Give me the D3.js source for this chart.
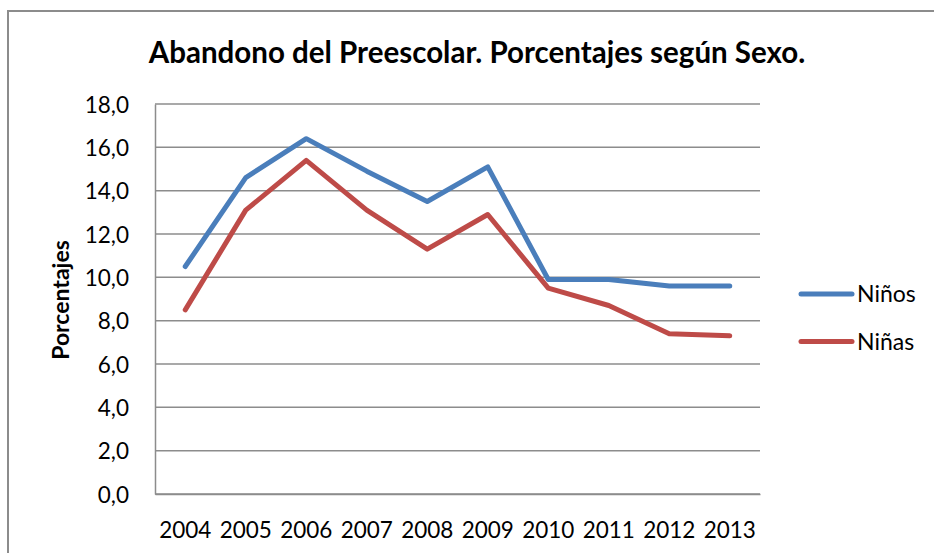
<!DOCTYPE html>
<html>
<head>
<meta charset="utf-8">
<script src="https://cdn.jsdelivr.net/npm/d3@7"></script>
<style>
  body { margin: 0; background: #fff; }
  text { font-family: Lato, "Open Sans", sans-serif; fill: #000; }
</style>
</head>
<body>
<svg width="934" height="553"></svg>
<script>
var years = ["2004", "2005", "2006", "2007", "2008", "2009", "2010", "2011", "2012", "2013"];
var ninos = [10.5, 14.6, 16.4, 14.9, 13.5, 15.1, 9.9, 9.9, 9.6, 9.6];
var ninas = [8.5, 13.1, 15.4, 13.1, 11.3, 12.9, 9.5, 8.7, 7.4, 7.3];
var yTicks = [0, 2, 4, 6, 8, 10, 12, 14, 16, 18];
var seriesNames = ["Niños", "Niñas"];
var seriesColors = ["#4A7EBB", "#BE4B48"];

var svg = d3.select("svg");

// chart frame (only top and left visible)
svg.append("rect")
    .attr("x", 8).attr("y", 11)
    .attr("width", 940).attr("height", 560)
    .attr("fill", "#fff")
    .attr("stroke", "#8c8c8c")
    .attr("stroke-width", 2);

var plot = { left: 155, right: 760, top: 104, bottom: 494 };

var x = d3.scaleBand()
    .domain(years)
    .range([plot.left, plot.right]);

var y = d3.scaleLinear()
    .domain([0, 18])
    .range([plot.bottom, plot.top]);

// gridlines
svg.append("g")
  .selectAll("line")
  .data(yTicks)
  .enter().append("line")
    .attr("x1", plot.left).attr("x2", plot.right)
    .attr("y1", d => y(d)).attr("y2", d => y(d))
    .attr("stroke", "#8c8c8c")
    .attr("stroke-width", 1.5);

// y axis
var yAxis = svg.append("g")
    .attr("transform", "translate(" + plot.left + ",0)")
    .call(d3.axisLeft(y).tickValues(yTicks).tickSize(0).tickPadding(26)
        .tickFormat(d => d3.format(".1f")(d).replace(".", ",")));
yAxis.select(".domain").attr("stroke", "#8c8c8c").attr("stroke-width", 1.5);
yAxis.selectAll("text").style("font-size", "22.5px").attr("dy", "0.36em");

// x axis
var xAxis = svg.append("g")
    .attr("transform", "translate(0," + plot.bottom + ")")
    .call(d3.axisBottom(x).tickSize(0).tickPadding(28));
xAxis.select(".domain").attr("stroke", "#8c8c8c").attr("stroke-width", 1.5);
xAxis.selectAll("text").style("font-size", "22.5px");

// lines
var line = d3.line()
    .x((d, i) => x(years[i]) + x.bandwidth() / 2)
    .y(d => y(d));

[ninos, ninas].forEach(function(vals, k) {
  svg.append("path")
      .datum(vals)
      .attr("d", line)
      .attr("fill", "none")
      .attr("stroke", seriesColors[k])
      .attr("stroke-width", 5)
      .attr("stroke-linejoin", "round")
      .attr("stroke-linecap", "round");
});

// legend
var legend = svg.append("g")
  .selectAll("g")
  .data(seriesNames)
  .enter().append("g")
    .attr("transform", (d, i) => "translate(801," + (294 + i * 47.5) + ")");
legend.append("line")
    .attr("x1", 0).attr("x2", 51)
    .attr("stroke", (d, i) => seriesColors[i])
    .attr("stroke-width", 5)
    .attr("stroke-linecap", "round");
legend.append("text")
    .attr("x", 56).attr("dy", "0.36em")
    .style("font-size", "23px")
    .text(d => d);

// title, sized to span the same width as the original
var title = svg.append("text")
    .attr("x", 477).attr("y", 63)
    .attr("text-anchor", "middle")
    .style("font-size", "26px")
    .style("font-weight", "bold")
    .text("Abandono del Preescolar. Porcentajes según Sexo.");
var tw = title.node().getComputedTextLength();
title.style("font-size", (26 * 657 / tw) + "px");

// y label
svg.append("text")
    .attr("transform", "translate(69,300) rotate(-90)")
    .attr("text-anchor", "middle")
    .style("font-size", "23px")
    .style("font-weight", "bold")
    .text("Porcentajes");
</script>
</body>
</html>
